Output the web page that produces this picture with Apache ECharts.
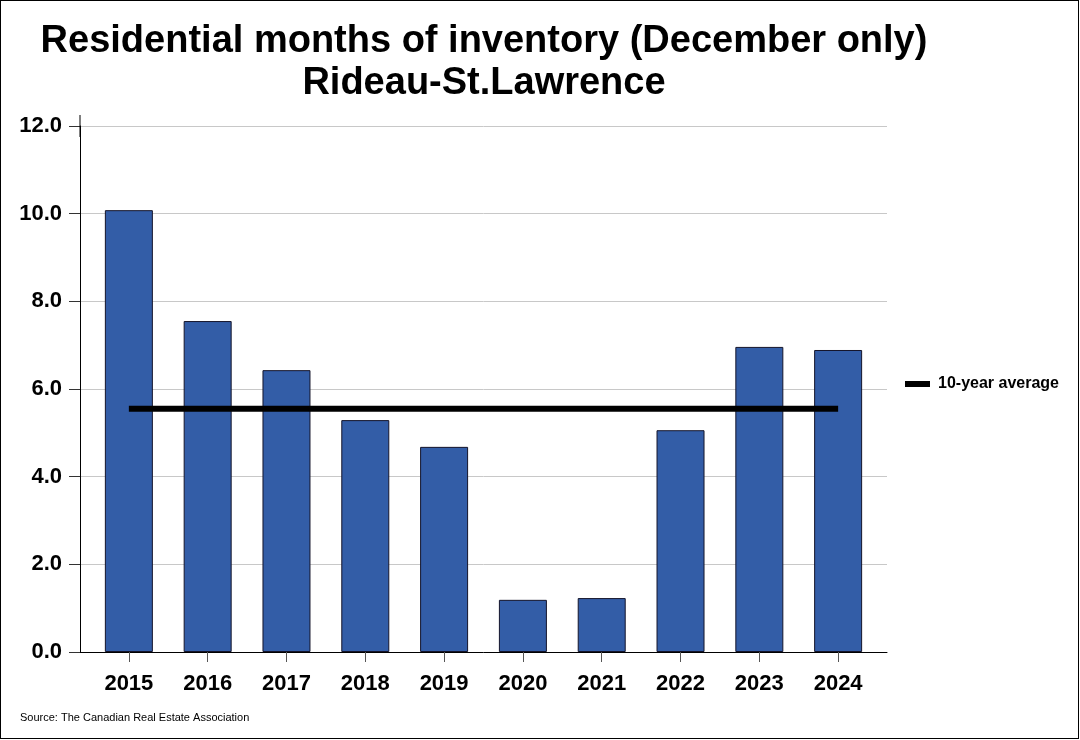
<!DOCTYPE html>
<html>
<head>
<meta charset="utf-8">
<script src="https://cdn.jsdelivr.net/npm/echarts@6/dist/echarts.min.js"></script>
<style>
  html, body { margin: 0; padding: 0; background: #fff; }
  #chart { width: 1080px; height: 740px; position: absolute; left: 0; top: 0; }
  #frame { position: absolute; left: 0; top: 0; width: 1079px; height: 739px; box-sizing: border-box; border: 1px solid #000; pointer-events: none; }
</style>
</head>
<body>
<div id="chart"></div>
<div id="frame"></div>
<script>
const years = ['2015', '2016', '2017', '2018', '2019', '2020', '2021', '2022', '2023', '2024'];
const monthsOfInventory = [10.08, 7.55, 6.43, 5.29, 4.68, 1.19, 1.23, 5.06, 6.96, 6.89];
const tenYearAverage = [5.55];
const titleLines = ['Residential months of inventory (December only)', 'Rideau-St.Lawrence'];
const sourceText = 'Source: The Canadian Real Estate Association';
const legendLabel = '10-year average';

const FONT = '"Liberation Sans", Arial, sans-serif';
const xIdx = years.map((_, i) => i);

const chart = echarts.init(document.getElementById('chart'), null, { renderer: 'canvas' });
chart.setOption({
  animation: false,
  backgroundColor: '#ffffff',
  textStyle: { fontFamily: FONT },
  grid: { left: 80, right: 193, top: 126, bottom: 88, containLabel: false },
  graphic: [
    { type: 'text', style: { text: titleLines[0], x: 484, y: 42, textAlign: 'center', textVerticalAlign: 'middle', font: 'bold 38px ' + FONT, fill: '#000' } },
    { type: 'text', style: { text: titleLines[1], x: 484, y: 84, textAlign: 'center', textVerticalAlign: 'middle', font: 'bold 38px ' + FONT, fill: '#000' } },
    { type: 'text', style: { text: sourceText, x: 20, y: 718, textAlign: 'left', textVerticalAlign: 'middle', font: '11px ' + FONT, fill: '#000' } }
  ],
  legend: {
    show: true,
    data: [{ name: legendLabel, icon: 'rect' }],
    left: 905,
    top: 376,
    padding: 0,
    itemWidth: 25,
    itemHeight: 6,
    itemGap: 10,
    textStyle: { fontFamily: FONT, fontWeight: 'bold', fontSize: 16, color: '#000', padding: [0, 0, 0, 3] }
  },
  xAxis: {
    type: 'value',
    min: -0.62,
    max: 9.62,
    axisLine: { show: true, onZero: false, lineStyle: { color: '#000', width: 1 } },
    axisTick: { show: true, customValues: xIdx, length: 10, lineStyle: { color: '#555', width: 1 } },
    axisLabel: {
      show: true,
      customValues: xIdx,
      margin: 21,
      formatter: (v) => years[Math.round(v)] || '',
      fontFamily: FONT, fontWeight: 'bold', fontSize: 22, color: '#000'
    },
    splitLine: { show: false }
  },
  yAxis: {
    type: 'value',
    min: 0,
    max: 12,
    interval: 2,
    axisLine: {
      show: true, onZero: false,
      symbol: ['none', 'rect'], symbolSize: [1, 22],
      lineStyle: { color: '#000', width: 1 }
    },
    axisTick: { show: true, inside: false, length: 11, lineStyle: { color: '#333', width: 1 } },
    axisLabel: {
      show: true,
      margin: 18,
      formatter: (v) => v.toFixed(1),
      fontFamily: FONT, fontWeight: 'bold', fontSize: 22, color: '#000'
    },
    splitLine: { show: true, lineStyle: { color: '#c8c8c8', width: 1 } }
  },
  series: [
    {
      type: 'bar',
      name: 'Months of inventory',
      data: monthsOfInventory.map((v, i) => [i, v]),
      barWidth: 48,
      itemStyle: { color: '#335DA7', borderColor: '#14142a', borderWidth: 1 },
      z: 2
    },
    {
      type: 'line',
      name: legendLabel,
      data: [[0, tenYearAverage[0]], [years.length - 1, tenYearAverage[0]]],
      symbol: 'none',
      lineStyle: { color: '#000', width: 6, cap: 'butt' },
      itemStyle: { color: '#000' },
      z: 5
    }
  ]
});
</script>
</body>
</html>
